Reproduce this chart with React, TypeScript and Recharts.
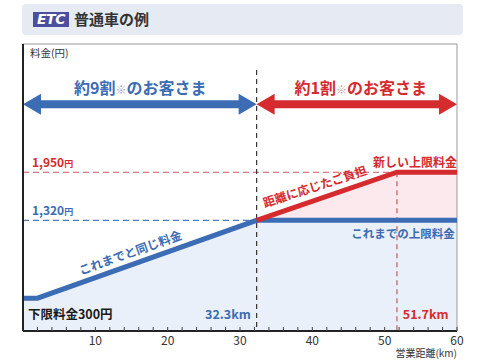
import React from 'react';
import { ComposedChart, Line, Area, XAxis, YAxis, ReferenceLine, ReferenceDot } from 'recharts';

// ---- data ----
const km = [0, 2, 32.3, 51.7, 60];
const currentFare = [300, 300, 1320, 1320, 1320];
const newFare: (number | null)[] = [null, null, 1320, 1950, 1950];
const xTicks = [2, 4, 6, 8, 10, 12, 14, 16, 18, 20, 22, 24, 26, 28, 30, 32, 34, 36, 38, 40, 42, 44, 46, 48, 50, 52, 54, 56, 58, 60];
const xTickLabels = [10, 20, 30, 40, 50, 60];
const yTicks = [420, 960, 1500, 2040];
const yDomain = [-130, 3630];
const lowerFare = 300;
const oldCap = 1320;
const newCap = 1950;
const oldCapKm = 32.3;
const newCapKm = 51.7;

const data = km.map((k, i) => ({
  km: k,
  blue: currentFare[i],
  red: newFare[i],
  pink: newFare[i] == null ? null : [currentFare[i], newFare[i] as number],
}));

const FONT = '"Noto Sans CJK JP", "Noto Sans", sans-serif';
const BLUE = '#3b6cb4';
const RED = '#d52a2e';
const ARROW_Y = 2840;

const arrowShape = (color: string) => (p: any) => {
  const { x1, y1, x2 } = p;
  const y = y1;
  const h = 18, hw = 10.5, sw = 4;
  const d = `M${x1},${y} L${x1 + h},${y - hw} L${x1 + h},${y - sw} L${x2 - h},${y - sw} L${x2 - h},${y - hw} L${x2},${y} L${x2 - h},${y + hw} L${x2 - h},${y + sw} L${x1 + h},${y + sw} L${x1 + h},${y + hw} Z`;
  return <path d={d} fill={color} />;
};

const XTick = (p: any) => {
  const { x, y, payload } = p;
  const v = payload.value;
  return (
    <g>
      <line x1={x} x2={x} y1={y} y2={y - 4} stroke="#444" strokeWidth={1} />
      {xTickLabels.includes(v) && (
        <text x={x} y={y + 14} textAnchor="middle" fontSize={12} fill="#333" fontFamily={FONT}>{v}</text>
      )}
    </g>
  );
};

function label(key: string, x: number, y: number, content: React.ReactNode, opts: any = {}) {
  const { anchor = 'start', size = 12, color = '#222', weight = 700, rotate = 0, baseline } = opts;
  return (
    <ReferenceDot
      key={key}
      x={x}
      y={y}
      r={0}
      ifOverflow="visible"
      shape={(p: any) => (
        <text
          x={p.cx}
          y={p.cy}
          textAnchor={anchor}
          fontSize={size}
          fill={color}
          fontWeight={weight}
          fontFamily={FONT}
          dominantBaseline={baseline}
          transform={rotate ? `rotate(${rotate}, ${p.cx}, ${p.cy})` : undefined}
        >
          {content}
        </text>
      )}
    />
  );
}

export default function App() {
  return (
    <div style={{ position: 'fixed', left: 0, top: 0, width: 480, height: 360, background: '#fff', fontFamily: FONT }}>
      <div style={{ position: 'absolute', left: 22, top: 4, width: 441, height: 31, background: '#e5eaf3', borderRadius: 4 }}>
        <div style={{ position: 'absolute', left: 11, top: 8, width: 36, height: 15, background: '#4b4d9f', color: '#fff', fontStyle: 'italic', fontWeight: 900, fontSize: 14, lineHeight: '15px', textAlign: 'center', fontFamily: '"DejaVu Sans", sans-serif', letterSpacing: -0.5 }}>ETC</div>
        <div style={{ position: 'absolute', left: 52, top: 4, fontSize: 15, fontWeight: 700, color: '#333', lineHeight: '22px' }}>普通車の例</div>
      </div>
      <div style={{ position: 'absolute', left: 0, top: 0 }}>
        <ComposedChart width={480} height={360} data={data} margin={{ top: 44, right: 23, bottom: 9, left: 22 }} style={{ fontFamily: FONT }}>
          <XAxis
            dataKey="km"
            type="number"
            domain={[0, 60]}
            ticks={xTicks}
            allowDataOverflow
            height={20}
            tickLine={false}
            tickSize={0}
            tickMargin={0}
            tick={<XTick />}
            axisLine={{ stroke: '#222', strokeWidth: 2 }}
            interval={0}
          />
          <YAxis
            type="number"
            domain={yDomain}
            ticks={yTicks}
            allowDataOverflow
            width={1}
            tick={false}
            tickSize={4}
            tickLine={{ stroke: '#555' }}
            axisLine={{ stroke: '#222', strokeWidth: 2 }}
          />
          <Area dataKey="blue" type="linear" stroke="none" fill="#e9f0f9" fillOpacity={1} baseValue="dataMin" isAnimationActive={false} />
          <Area dataKey="pink" type="linear" stroke="none" fill="#fbe9ee" fillOpacity={1} isAnimationActive={false} connectNulls={false} />

          <ReferenceLine y={yDomain[1]} stroke="#999" strokeWidth={1} />
          <ReferenceLine x={60} stroke="#999" strokeWidth={1} />
          <ReferenceLine segment={[{ x: 0, y: newCap }, { x: newCapKm, y: newCap }]} stroke="#c9575e" strokeWidth={1.2} strokeDasharray="6 4" />
          <ReferenceLine segment={[{ x: 0, y: oldCap }, { x: oldCapKm, y: oldCap }]} stroke="#4d7dbd" strokeWidth={1.2} strokeDasharray="6 4" />
          <ReferenceLine segment={[{ x: oldCapKm, y: 3290 }, { x: oldCapKm, y: yDomain[0] }]} stroke="#333" strokeWidth={1.2} strokeDasharray="5 4" />
          <ReferenceLine segment={[{ x: newCapKm, y: newCap }, { x: newCapKm, y: yDomain[0] }]} stroke="#c9575e" strokeWidth={1.2} strokeDasharray="5 4" />

          <Line dataKey="blue" type="linear" stroke={BLUE} strokeWidth={5} dot={false} isAnimationActive={false} />
          <Line dataKey="red" type="linear" stroke={RED} strokeWidth={5} dot={false} isAnimationActive={false} />

          <ReferenceLine segment={[{ x: 0, y: ARROW_Y }, { x: oldCapKm, y: ARROW_Y }]} shape={arrowShape(BLUE)} />
          <ReferenceLine segment={[{ x: oldCapKm, y: ARROW_Y }, { x: 60, y: ARROW_Y }]} shape={arrowShape(RED)} />

          {label('ylab', 0.97, 3458, '料金(円)', { size: 10.5, weight: 400, color: '#333' })}
          {label('a9', 16.2, 2974, <>約9割<tspan fontSize={11} fill="#9aa8bf">※</tspan>のお客さま</>, { anchor: 'middle', size: 16, color: BLUE })}
          {label('a1', 46.7, 2974, <>約1割<tspan fontSize={11} fill="#c9a0a0">※</tspan>のお客さま</>, { anchor: 'middle', size: 16, color: RED })}
          {label('y1950', 1.24, 2018, <>{newCap.toLocaleString('en-US')}<tspan fontSize={9}>円</tspan></>, { size: 12, color: RED })}
          {label('y1320', 1.24, 1389, <>{oldCap.toLocaleString('en-US')}<tspan fontSize={9}>円</tspan></>, { size: 12, color: BLUE })}
          {label('low', 0.69, 27, `下限料金${lowerFare}円`, { size: 12.5, color: '#1a1a1a' })}
          {label('k1', 31.5, 27, `${oldCapKm}km`, { anchor: 'end', size: 12.5, color: BLUE })}
          {label('k2', 52.5, 27, `${newCapKm}km`, { size: 12.5, color: RED })}
          {label('newcap', 60, 2018, '新しい上限料金', { anchor: 'end', size: 12, color: RED })}
          {label('oldcap', 59.7, 1088, 'これまでの上限料金', { anchor: 'end', size: 11.5, color: BLUE })}
          {label('same', 14.8, 910, 'これまでと同じ料金', { anchor: 'middle', size: 12, color: BLUE, rotate: -19.6, baseline: 'central' })}
          {label('dist', 40.3, 1775, '距離に応じたご負担', { anchor: 'middle', size: 12, color: RED, rotate: -18, baseline: 'central' })}
          {label('xlab', 60, -470, '営業距離(km)', { anchor: 'end', size: 10, weight: 400, color: '#333' })}
        </ComposedChart>
      </div>
    </div>
  );
}
